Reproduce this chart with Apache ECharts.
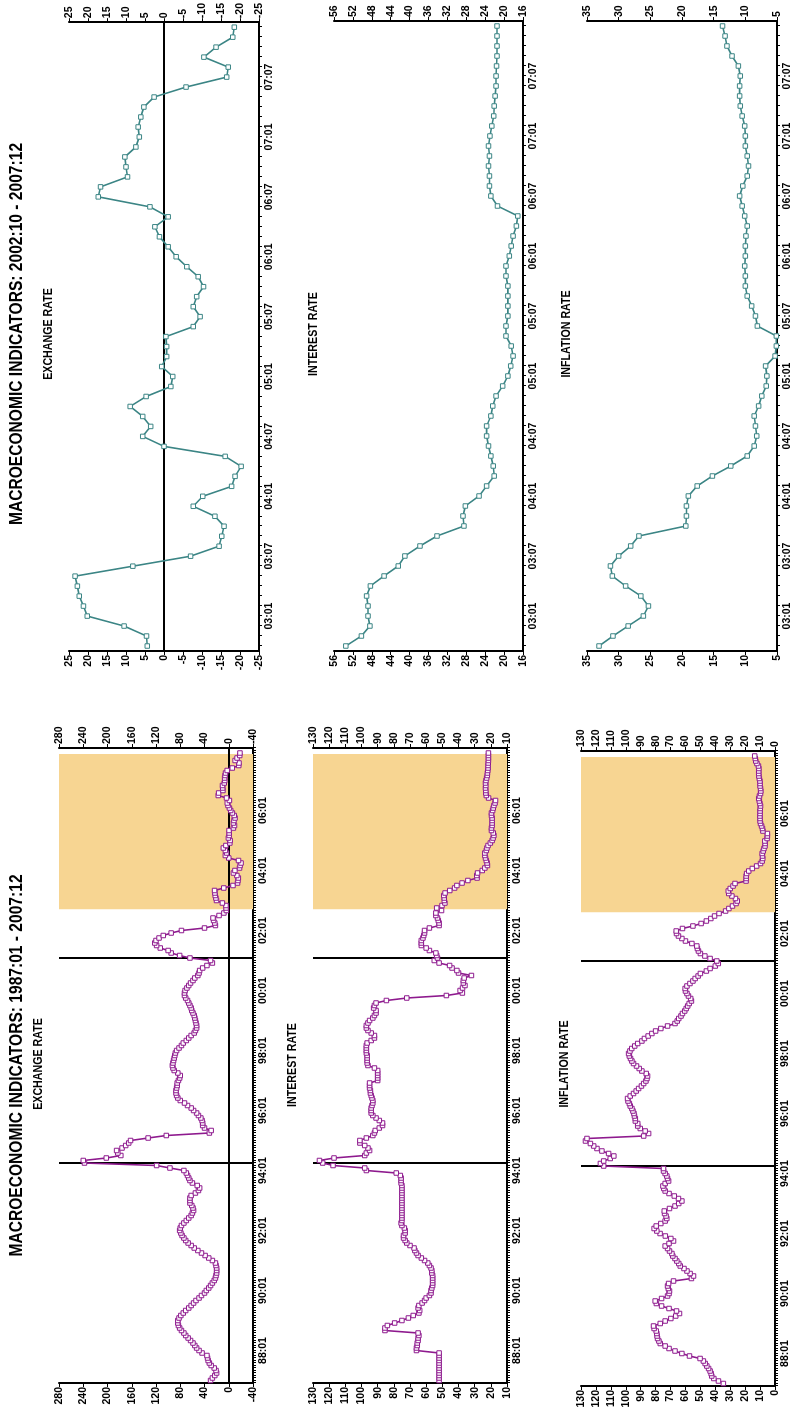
<!DOCTYPE html>
<html>
<head>
<meta charset="utf-8">
<script src="https://cdn.jsdelivr.net/npm/echarts@6/dist/echarts.min.js"></script>
<style>
  html, body { margin:0; padding:0; background:#fff; }
  body { width:797px; height:1412px; overflow:hidden; position:relative; }
  #wrap { position:absolute; left:0; top:0; width:1412px; height:797px;
          transform-origin:0 0; transform:translate(0,1412px) rotate(-90deg); background:#fff; }
</style>
</head>
<body>
<div id="wrap"></div>
<script>
// ---------------- DATA ----------------
// Monthly values 1987:01 - 2002:09 (189 months)
const exchangeEarly = [
  30,27,23,20,21,24,29,32,34,35,36,44,
  49,53,56,59,63,67,71,74,78,81,83,84,
  84,82,79,75,71,66,62,58,54,49,45,40,
  37,33,30,27,24,22,21,20,20,20,21,22,
  27,33,39,45,51,57,62,67,71,74,77,79,
  81,80,78,74,70,66,62,60,58,59,61,64,
  64,64,62,55,50,48,52,60,64,66,68,70,
  74,97,119,238,240,202,178,183,185,176,170,165,
  162,133,103,32,29,40,43,43,44,46,50,53,
  58,62,68,73,80,84,86,87,87,86,85,85,
  83,81,80,84,90,92,93,92,91,90,89,88,
  86,82,78,75,70,66,62,57,55,53,53,54,
  55,56,57,59,61,62,64,66,68,71,73,73,
  72,69,66,63,59,56,51,49,48,43,36,27,
  30,64,81,95,100,113,119,122,120,115,108,95,
  78,40,22,23,25,26,16,8,4
];
const interestEarly = [
  52,52,52,52,52,52,52,52,52,52,52,52,
  66,66,65.5,65.5,65,65,64.5,65,85.5,85.5,84,79.5,
  75,71,68,64.5,64,65,64.5,62.5,61,60,58,57,
  57,56.5,56,56,56,56,56,56.5,56.5,57,58,59,
  61,63,65,66,67,67.5,70,72,73,74,74,73,
  73,73.5,75,75.5,75,75,75,75,75,75,75,75,
  75,75,75,75,75,75,75,75.5,75.5,75.5,76,78.5,
  97,98,117.6,124,126,117,98,97,95,96,98,101,
  101,97,93,92,91.5,89,87,87,89,91,93,94,
  94,94,93.5,93,93,93.5,94,94.5,94.5,95,95,95,
  90,90,90,90,90,92,96,96.5,96.5,96.5,96.5,97,
  97,97,97,96.5,94,92,92,94,96,97,97,96,
  95,93,92,91,91,92.5,92,91,84.6,72,47.5,37.6,
  39,37.5,36,37,37,36.5,32,40,41,44,45.5,52,
  55,53,53.5,54,58,60,63,63,63,62,61.5,61,
  61,58,52,52,52.5,53,54,54,50.5
];
const inflationEarly = [
  34.6,37.9,41,42.4,42.8,43.5,44.5,45.7,46.8,48,50.2,57.3,
  62.4,67,71,73.6,76.9,77.8,78.7,79,79.2,79.6,81,81.4,
  76.9,73.6,69.8,66.5,64,66,71,76,79.5,80.3,76,72,
  71,70.7,71.5,72,71.3,68,56,54.6,56.9,59,61,63.5,
  64.5,65.8,67,68.5,69.1,70.7,72,73.6,71,68,69.8,73.5,
  77,79.2,81,79.6,76.5,73.6,72.5,73,74,74.2,70.7,67,
  64.5,62.4,64.7,67.5,71,73.6,74.5,75.1,73.6,71.3,72,72.5,
  73.6,74.7,74.7,114.8,117,114.8,110.4,108,111.5,116,119.3,121.5,
  123.7,127,126,88,84.7,87,90.3,92,92,93.6,93.6,94.2,
  94.5,95.2,95.9,97,97.6,98.5,98.8,97,94.8,93,91.4,89.5,
  88,86.5,85.8,85.4,86.3,89.2,91,92.8,94.8,95.9,96.8,97.6,
  98.1,97.2,96,94,92,89.2,87.5,85,82.5,80,76.5,72,
  67,65.5,64.5,63,62,60.5,59.5,58.5,57.5,56,56.5,58,
  59,60,60.2,59,57,55,53.5,51.5,50,46,43.5,40,
  38,39,43.5,47,50,51.3,52,52.4,55.7,60,62.4,64.7,
  66,66.2,62,55,49.5,46,43,40.5,37.5
];
// Monthly values 2002:10 - 2007:12 (63 months)
const exchangeRecent = [
  4.4,4.6,10.5,20.2,21.2,22.3,22.8,23.4,8.2,-7.0,
  -14.5,-15.2,-15.8,-13.4,-7.7,-10.2,-17.8,-18.7,-20.3,-16.1,
  0,5.6,3.5,5.6,8.9,4.7,-1.8,-2.3,0.6,-0.7,
  -0.7,-0.5,-7.7,-9.5,-7.7,-8.6,-10.4,-9.0,-6.0,-3.2,
  -1.1,1.2,2.4,-1.1,3.7,17.3,16.7,9.6,10.0,10.3,
  7.4,6.5,6.8,6.1,5.3,2.6,-5.8,-16.5,-16.9,-10.5,
  -13.7,-18.1,-18.5
];
const interestRecent = [
  53.5,50.2,48.4,48.8,48.8,49.1,48.3,45.4,42.4,41.0,
  37.8,34.2,28.5,28.7,28.2,25.3,23.7,22.1,22.3,22.8,
  23.3,23.7,23.7,22.8,22.4,21.7,20.3,19.2,18.6,18.1,
  18.5,19.6,19.6,19.2,19.2,19.2,19.2,19.6,19.6,18.9,
  18.5,18.1,17.4,17.1,21.4,22.8,23.1,23.1,23.3,23.1,
  23.3,23.0,22.6,22.2,22.1,21.9,21.7,21.7,21.6,21.5,
  21.5,21.5,21.5
];
const inflationRecent = [
  33.1,30.9,28.5,26.1,25.3,26.5,28.9,31.0,31.3,30.0,
  28.1,26.8,19.4,19.3,19.3,19.0,17.6,15.2,12.3,9.7,
  8.6,8.2,8.4,8.6,7.9,7.4,6.7,6.6,6.8,5.3,
  5.1,5.1,8.1,8.4,9.0,9.7,10.0,10.0,10.1,10.0,
  10.0,9.9,9.7,10.1,10.5,10.9,10.4,9.7,9.5,9.7,
  10.0,10.0,10.1,10.5,10.8,10.9,10.9,10.8,11.1,12.1,
  12.9,13.2,13.6
];
const leftTickLabels  = ['88:01','90:01','92:01','94:01','96:01','98:01','00:01','02:01','04:01','06:01'];
const rightTickLabels = ['03:01','03:07','04:01','04:07','05:01','05:07','06:01','06:07','07:01','07:07'];
const crisisMonths = [87, 169];       // 1994:04, 2001:02 (month index from 1987:01)
const shadeRange = [188.5, 250.6];    // 2002:10 - 2007:12 window
const titles = ['MACROECONOMIC INDICATORS: 1987:01 - 2007:12', 'MACROECONOMIC INDICATORS: 2002:10 - 2007:12'];
const panelNames = ['EXCHANGE RATE', 'INTEREST RATE', 'INFLATION RATE'];

// ---------------- STYLE ----------------
const FAM = "'Liberation Sans','Arimo',Arial,sans-serif";
const PURPLE = '#8E1A8E', TEAL = '#3B8585', SHADE = '#F7D592';
const lblStyle = { color:'#000', fontFamily:FAM, fontWeight:'bold', fontSize:10.5 };

const chart = echarts.init(document.getElementById('wrap'), null, { width:1412, height:797, renderer:'canvas' });

const exchangeAll  = exchangeEarly.concat(exchangeRecent);
const interestAll  = interestEarly.concat(interestRecent);
const inflationAll = inflationEarly.concat(inflationRecent);

// grids: 0-2 left (1987-2007), 3-5 right (2002-2007)
const grids = [
  { left:29, width:635, top:59,  height:194 },
  { left:29, width:635, top:313, height:194 },
  { left:26, width:635, top:581, height:194 },
  { left:761, width:630, top:69,  height:190 },
  { left:761, width:630, top:334, height:189 },
  { left:761, width:630, top:587, height:190 }
];
const yRanges = [
  { min:-40, max:280, interval:40 },
  { min:10, max:130, interval:10 },
  { min:0, max:130, interval:10 },
  { min:-25, max:25, interval:5 },
  { min:16, max:56, interval:4 },
  { min:5, max:35, interval:5 }
];

const xAxes = [], yAxes = [], series = [];
const rightCats = exchangeRecent.map((_, j) => j);

grids.forEach((g, gi) => {
  const isLeft = gi < 3;
  if (isLeft) {
    xAxes.push({
      type:'value', gridIndex:gi, min:-1, max:253, interval:1,
      axisLine:{ show:true, onZero:false, lineStyle:{ color:'#000', width:2 } },
      axisTick:{ show:true, length:3, lineStyle:{ color:'#000', width:1 } },
      splitLine:{ show:false },
      axisLabel:Object.assign({ margin:5, formatter:(v) => {
        const k = (v - 12) / 24;
        return (Number.isInteger(k) && k >= 0 && k < leftTickLabels.length) ? leftTickLabels[k] : '';
      } }, lblStyle)
    });
  } else {
    xAxes.push({
      type:'category', gridIndex:gi, data:rightCats, boundaryGap:true,
      axisLine:{ show:true, onZero:false, lineStyle:{ color:'#000', width:2 } },
      axisTick:{ show:true, interval:0, alignWithLabel:true, length:3, lineStyle:{ color:'#000', width:1 } },
      splitLine:{ show:false },
      axisLabel:Object.assign({ margin:5, interval:(idx) => idx >= 3 && (idx - 3) % 6 === 0,
        formatter:(v, idx) => rightTickLabels[(idx - 3) / 6] || '' }, lblStyle)
    });
  }
  ['left','right'].forEach(pos => {
    yAxes.push(Object.assign({
      type:'value', gridIndex:gi, position:pos,
      axisLine:{ show:true, onZero:false, lineStyle:{ color:'#000', width:2 } },
      axisTick:{ show:true, length:4, lineStyle:{ color:'#000', width:1 } },
      splitLine:{ show:false },
      axisLabel:Object.assign({ margin:4 }, lblStyle)
    }, yRanges[gi]));
  });
});

function leftSeries(gi, arr, zeroLine) {
  const ml = crisisMonths.map(m => ({ xAxis:m }));
  if (zeroLine) ml.push({ yAxis:0 });
  return {
    type:'line', xAxisIndex:gi, yAxisIndex:gi*2,
    data:arr.map((v, i) => [i, v]),
    symbol:'rect', symbolSize:4.5, showSymbol:true, showAllSymbol:true,
    itemStyle:{ color:'#fff', borderColor:PURPLE, borderWidth:1 },
    lineStyle:{ color:PURPLE, width:1.6 },
    animation:false, z:5,
    markLine:{ silent:true, symbol:['none','none'], label:{ show:false },
      lineStyle:{ color:'#000', width:2, type:'solid' }, data:ml, animation:false },
    markArea:{ silent:true, itemStyle:{ color:SHADE }, data:[[{ xAxis:shadeRange[0] }, { xAxis:shadeRange[1] }]], animation:false }
  };
}
function rightSeries(gi, arr, zeroLine) {
  const s = {
    type:'line', xAxisIndex:gi, yAxisIndex:gi*2, data:arr,
    symbol:'rect', symbolSize:4.5, showSymbol:true, showAllSymbol:true,
    itemStyle:{ color:'#fff', borderColor:TEAL, borderWidth:1 },
    lineStyle:{ color:TEAL, width:1.6 },
    animation:false, z:5
  };
  if (zeroLine) s.markLine = { silent:true, symbol:['none','none'], label:{ show:false },
    lineStyle:{ color:'#000', width:2, type:'solid' }, data:[{ yAxis:0 }], animation:false };
  return s;
}
series.push(leftSeries(0, exchangeAll, true));
series.push(leftSeries(1, interestAll, false));
series.push(leftSeries(2, inflationAll, false));
series.push(rightSeries(3, exchangeRecent, true));
series.push(rightSeries(4, interestRecent, false));
series.push(rightSeries(5, inflationRecent, false));

// condensed bold text (Arial-Narrow-like proportions via horizontal scale)
function txt(t, x, y, size) {
  return { type:'text', x, y, scaleX:0.82, scaleY:1, silent:true,
    style:{ text:t, fill:'#000', textAlign:'center', textVerticalAlign:'middle',
    font:'bold ' + size + 'px ' + FAM } };
}
const graphics = [
  txt(titles[0], 346.5, 16.5, 19),
  txt(panelNames[0], 348, 38, 13),
  txt(panelNames[1], 347, 292, 13),
  txt(panelNames[2], 348, 564, 13),
  txt(titles[1], 1078, 16.5, 19),
  txt(panelNames[0], 1078, 48, 13),
  txt(panelNames[1], 1078, 313, 13),
  txt(panelNames[2], 1078, 566, 13)
];

chart.setOption({
  animation:false,
  backgroundColor:'#fff',
  grid:grids,
  xAxis:xAxes,
  yAxis:yAxes,
  series:series,
  graphic:graphics
});
</script>
</body>
</html>
